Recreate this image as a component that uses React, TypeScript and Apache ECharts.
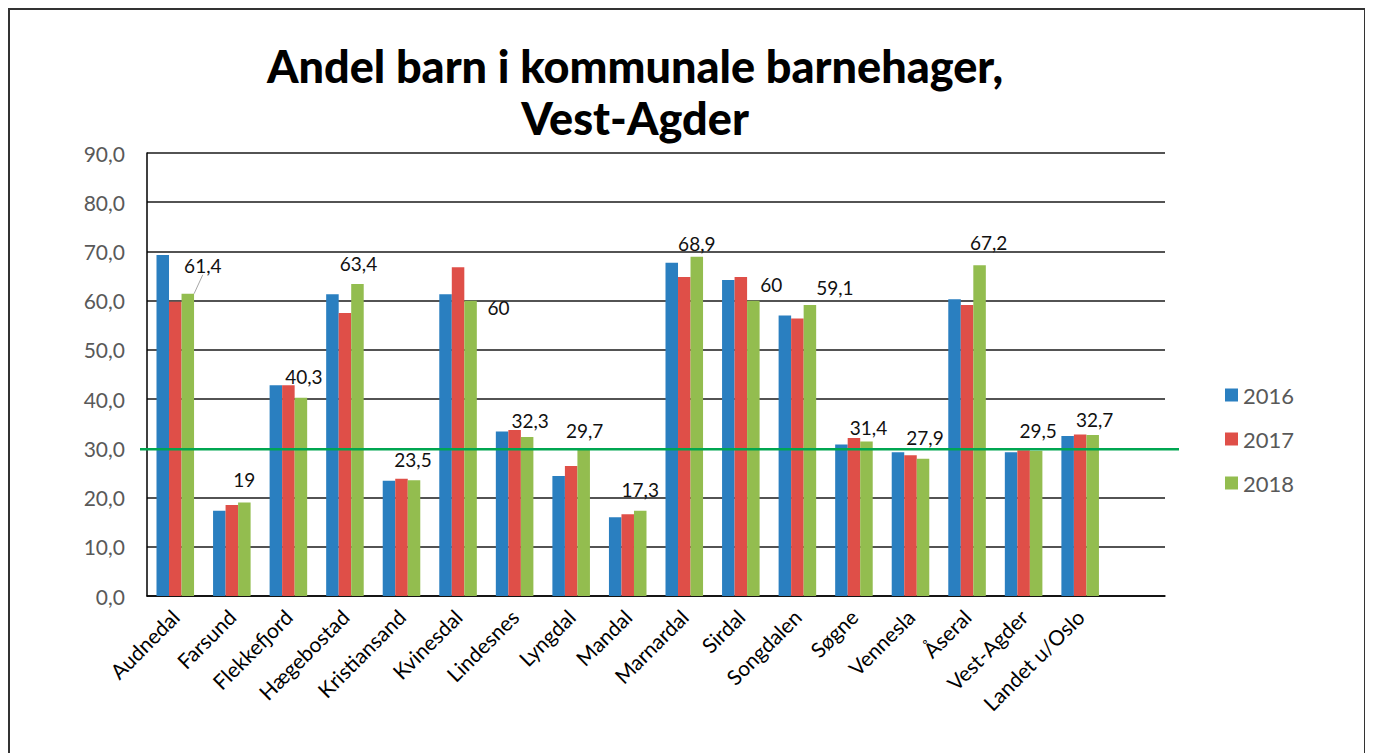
import React, { useEffect, useRef } from "react";
import * as echarts from "echarts";

const categories = [
  "Audnedal", "Farsund", "Flekkefjord", "Hægebostad", "Kristiansand", "Kvinesdal",
  "Lindesnes", "Lyngdal", "Mandal", "Marnardal", "Sirdal", "Songdalen", "Søgne",
  "Vennesla", "Åseral", "Vest-Agder", "Landet u/Oslo", "",
];
const seriesNames = ["2016", "2017", "2018"];
const values2016 = [69.3, 17.3, 42.8, 61.3, 23.4, 61.3, 33.4, 24.4, 16.0, 67.7, 64.2, 57.0, 30.8, 29.2, 60.3, 29.2, 32.5];
const values2017 = [59.8, 18.5, 42.8, 57.5, 23.8, 66.8, 33.7, 26.4, 16.6, 64.8, 64.8, 56.4, 32.1, 28.6, 59.1, 29.6, 32.8];
const values2018 = [61.4, 19, 40.3, 63.4, 23.5, 60, 32.3, 29.7, 17.3, 68.9, 60, 59.1, 31.4, 27.9, 67.2, 29.5, 32.7];
const referenceValue = 29.8;
const yTicks = { min: 0, max: 90, interval: 10 };

// label nudges (style only) for the 2018 data labels
const labelNudges: [number, number][] = [
  [15, -10], [0, -4], [3, -3], [1, -2], [-1, -2], [28, 25], [3, 2], [1, -1], [0, -3],
  [0, 5], [18, 2], [25, 1], [2, 5], [2, -3], [9, -4], [2, -2], [2, 3],
];

const colors = ["#2a7fc0", "#df4f48", "#93bd4f"];
const FONT = "Lato";

function fmt(v: number) {
  return String(v).replace(".", ",");
}

export default function App() {
  const ref = useRef<HTMLDivElement>(null);
  useEffect(() => {
    document.documentElement.style.overflow = "hidden";
    document.body.style.overflow = "hidden";
    const chart = echarts.init(ref.current!, undefined, { renderer: "svg" });
    const gridLeft = 137;
    const gridTop = 143;
    const gridWidth = 1018;
    const gridHeight = 443;
    const mkSeries = (i: number, vals: number[]) => {
      const s: any = {
        name: seriesNames[i],
        type: "bar",
        barGap: "0%",
        barCategoryGap: "33.6%",
        itemStyle: { color: colors[i] },
        data: vals,
      };
      if (i === 2) {
        s.data = vals.map((v, k) =>
          k === 0 ? { value: v, labelLine: { show: true } } : v
        );
        s.label = {
          show: true,
          position: "top",
          distance: 9,
          color: "#111",
          fontFamily: FONT,
          fontSize: 19,
          formatter: (p: any) => fmt(p.value),
        };
        s.labelLine = {
          show: false,
          lineStyle: { color: "#a6a6a6", width: 1 },
        };
        s.labelLayout = (p: any) => {
          const n = labelNudges[p.dataIndex] || [0, 0];
          return { dx: n[0], dy: n[1] };
        };
      }
      return s;
    };
    chart.setOption({
      animation: false,
      backgroundColor: "#fff",
      title: {
        text: "Andel barn i kommunale barnehager,\nVest-Agder",
        left: 620,
        top: 25,
        textAlign: "center",
        textStyle: {
          fontFamily: FONT,
          fontWeight: 900,
          fontSize: 45,
          lineHeight: 52,
          color: "#000",
        },
      },
      legend: {
        orient: "vertical",
        left: 1210,
        top: 369,
        itemWidth: 13,
        itemHeight: 13,
        itemGap: 22,
        icon: "rect",
        textStyle: { fontFamily: FONT, fontSize: 22, color: "#595959" },
        data: seriesNames,
      },
      grid: { left: gridLeft, top: gridTop, width: gridWidth, height: gridHeight, containLabel: false },
      xAxis: {
        type: "category",
        data: categories,
        axisLine: { lineStyle: { color: "#000", width: 1.5 } },
        axisTick: { show: false },
        axisLabel: {
          rotate: 45,
          interval: 0,
          margin: 17,
          color: "#000",
          fontFamily: FONT,
          fontSize: 21,
        },
      },
      yAxis: {
        type: "value",
        min: yTicks.min,
        max: yTicks.max,
        interval: yTicks.interval,
        axisLine: { show: true, lineStyle: { color: "#000", width: 1.5 } },
        axisTick: { show: false },
        splitLine: { lineStyle: { color: "#1a1a1a", width: 1.6 } },
        axisLabel: {
          margin: 22,
          color: "#595959",
          fontFamily: FONT,
          fontSize: 21,
          formatter: (v: number) => v.toFixed(1).replace(".", ","),
        },
      },
      series: [mkSeries(0, values2016), mkSeries(1, values2017), mkSeries(2, values2018)],
    });
    const y = chart.convertToPixel({ yAxisIndex: 0 }, referenceValue) as number;
    chart.setOption({
      graphic: [
        {
          type: "line",
          z: 100,
          shape: { x1: gridLeft - 7, y1: y, x2: gridLeft + gridWidth + 14, y2: y },
          style: { stroke: "#00a651", lineWidth: 2.5 },
        },
      ],
    });
    return () => chart.dispose();
  }, []);
  return (
    <div
      style={{
        width: 1358,
        height: 820,
        border: "2px solid #333",
        boxSizing: "border-box",
        background: "#fff",
      }}
    >
      <div ref={ref} style={{ width: 1354, height: 816 }} />
    </div>
  );
}
